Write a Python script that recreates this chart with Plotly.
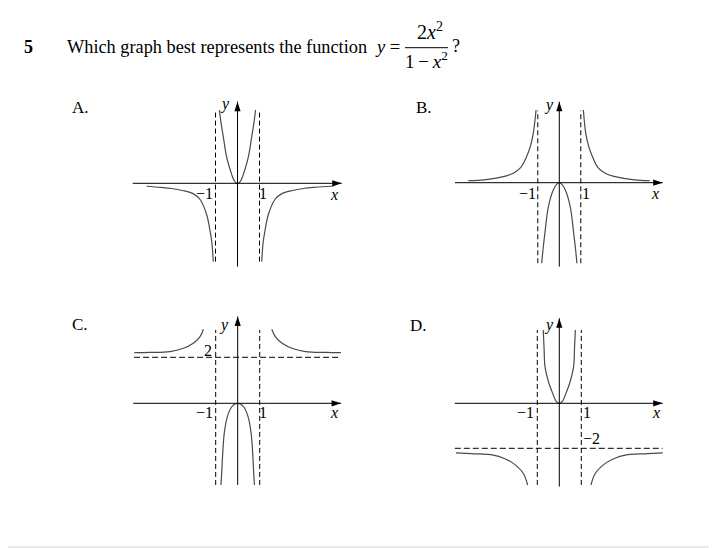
import plotly.graph_objects as go

# The page body has an 8px margin, so the figure is placed at (8, 8).
OFF = 8
W, H = 717 - OFF, 548 - OFF

# ---------------- data ----------------
panel_names = ["A.", "B.", "C.", "D."]

# Panel A
A_mid_x = [-0.82, -0.75, -0.65, -0.5, -0.3, -0.2, -0.1, 0.0, 0.1, 0.2, 0.3, 0.5, 0.65, 0.75, 0.82]
A_mid_y = [3.26, 2.7, 2.1, 1.2, 0.5, 0.22, 0.05, 0.0, 0.05, 0.22, 0.5, 1.2, 2.1, 2.7, 3.26]
A_left_x = [-4.13, -3.5, -3.0, -2.5, -2.0, -1.7, -1.4, -1.25, -1.17, -1.1]
A_left_y = [-0.13, -0.18, -0.23, -0.32, -0.47, -0.72, -1.4, -2.1, -2.6, -3.48]
A_right_x = [1.1, 1.17, 1.25, 1.4, 1.7, 2.0, 2.5, 3.0, 3.5, 4.36]
A_right_y = [-3.48, -2.6, -2.1, -1.4, -0.72, -0.47, -0.32, -0.23, -0.18, -0.12]

# Panel B
B_mid_x = [-0.82, -0.75, -0.67, -0.51, -0.28, -0.1, 0.0, 0.1, 0.28, 0.51, 0.67, 0.75, 0.82]
B_mid_y = [-3.58, -2.9, -2.25, -1.07, -0.32, -0.05, 0.0, -0.05, -0.32, -1.07, -2.25, -2.9, -3.58]
B_left_x = [-4.23, -3.5, -3.0, -2.5, -2.14, -1.8, -1.52, -1.35, -1.21, -1.08]
B_left_y = [0.09, 0.13, 0.19, 0.29, 0.42, 0.67, 1.16, 1.6, 2.2, 3.23]
B_right_x = [1.12, 1.23, 1.37, 1.54, 1.8, 2.14, 2.5, 3.0, 3.5, 4.2]
B_right_y = [3.23, 2.2, 1.6, 1.16, 0.67, 0.42, 0.29, 0.19, 0.13, 0.09]

# Panel C
C_mid_x = [-0.76, -0.72, -0.69, -0.61, -0.47, -0.27, -0.12, 0.0, 0.12, 0.27, 0.47, 0.61, 0.69, 0.72, 0.76]
C_mid_y = [-3.55, -2.9, -2.32, -1.3, -0.58, -0.15, -0.03, 0.0, -0.03, -0.15, -0.58, -1.3, -2.32, -2.9, -3.55]
C_left_x = [-4.7, -4.0, -3.08, -2.5, -2.02, -1.71, -1.56]
C_left_y = [2.2, 2.21, 2.25, 2.38, 2.61, 2.9, 3.22]
C_right_x = [1.55, 1.71, 2.02, 2.5, 3.08, 4.0, 4.69]
C_right_y = [3.22, 2.9, 2.61, 2.38, 2.25, 2.21, 2.2]

# Panel D
D_mid_x = [-0.73, -0.69, -0.65, -0.47, -0.3, -0.15, 0.0, 0.15, 0.3, 0.47, 0.65, 0.69, 0.73]
D_mid_y = [3.26, 2.4, 1.63, 0.89, 0.44, 0.1, 0.0, 0.1, 0.44, 0.89, 1.63, 2.4, 3.26]
D_left_x = [-4.7, -4.0, -3.0, -2.5, -2.09, -1.64, -1.44]
D_left_y = [-2.2, -2.24, -2.3, -2.45, -2.67, -3.11, -3.63]
D_right_x = [1.44, 1.64, 2.09, 2.5, 3.0, 4.0, 4.7]
D_right_y = [-3.63, -3.11, -2.67, -2.45, -2.3, -2.24, -2.2]

# vertical asymptotes x = -1, 1 and horizontal asymptote values
vert_asym = [-1, 1]
horiz_asym = [None, None, 2, -2]
tick_labels = ["−1", "1"]
horiz_labels = [None, None, "2", "−2"]

# ---------------- layout geometry (page pixels) ----------------
geom = [
    dict(ox=237.5, oy=183.3, ux=22.0, uy=22.5, box=(120, 355, 92, 278)),
    dict(ox=559.3, oy=182.7, ux=21.5, uy=22.5, box=(440, 680, 92, 278)),
    dict(ox=237.7, oy=403.3, ux=22.0, uy=23.0, box=(120, 355, 305, 495)),
    dict(ox=559.3, oy=403.3, ux=22.0, uy=22.5, box=(440, 680, 305, 495)),
]
axis_x_ext = [(-4.76, 4.74), (-4.85, 4.81), (-4.75, 4.7), (-4.75, 4.7)]
axis_y_ext = [(-3.7, 3.63), (-3.73, 3.6), (-3.55, 3.77), (-3.7, 3.78)]
vdash_ext = [(-3.48, 3.26), (-3.58, 3.2), (-3.55, 3.19), (-3.63, 3.26)]
hdash_ext = [None, None, (-4.71, 4.68), (-4.75, 4.7)]
lab_m1 = [(-1.48, -0.45), (-1.5, -0.5), (-1.53, -0.4), (-1.52, -0.41)]
lab_p1 = [(1.18, -0.45), (1.24, -0.5), (1.16, -0.4), (1.26, -0.41)]
lab_x = [(4.39, -0.48), (4.45, -0.5), (4.38, -0.4), (4.38, -0.41)]
lab_y = [(-0.57, 3.52), (-0.48, 3.45), (-0.61, 3.4), (-0.47, 3.48)]
lab_h = [None, None, (-1.33, 2.3), (1.47, -1.56)]
letter_pos = [(80, 107), (424, 107), (80, 324), (418, 325)]

series = [
    [(A_mid_x, A_mid_y), (A_left_x, A_left_y), (A_right_x, A_right_y)],
    [(B_mid_x, B_mid_y), (B_left_x, B_left_y), (B_right_x, B_right_y)],
    [(C_mid_x, C_mid_y), (C_left_x, C_left_y), (C_right_x, C_right_y)],
    [(D_mid_x, D_mid_y), (D_left_x, D_left_y), (D_right_x, D_right_y)],
]

SERIF = "Liberation Serif"
CURVE = "#4a4a4a"


def px_x(px):
    return (px - OFF) / W


def px_y(py):
    return 1 - (py - OFF) / H


fig = go.Figure()
annotations = []
shapes = []
layout_axes = {}

for i, g in enumerate(geom):
    n = i + 1
    xa = "x" if n == 1 else f"x{n}"
    ya = "y" if n == 1 else f"y{n}"
    x0, x1, y0, y1 = g["box"]
    layout_axes["xaxis" if n == 1 else f"xaxis{n}"] = dict(
        domain=[px_x(x0), px_x(x1)],
        range=[(x0 - g["ox"]) / g["ux"], (x1 - g["ox"]) / g["ux"]],
        visible=False, fixedrange=True, anchor=ya,
    )
    layout_axes["yaxis" if n == 1 else f"yaxis{n}"] = dict(
        domain=[px_y(y1), px_y(y0)],
        range=[(g["oy"] - y1) / g["uy"], (g["oy"] - y0) / g["uy"]],
        visible=False, fixedrange=True, anchor=xa,
    )

    # dashed asymptotes
    for v in vert_asym:
        fig.add_trace(go.Scatter(
            x=[v, v], y=list(vdash_ext[i]), mode="lines", xaxis=xa, yaxis=ya,
            line=dict(color="black", width=1, dash="5px,3px"), hoverinfo="skip",
            showlegend=False))
    if horiz_asym[i] is not None:
        fig.add_trace(go.Scatter(
            x=list(hdash_ext[i]), y=[horiz_asym[i]] * 2, mode="lines", xaxis=xa, yaxis=ya,
            line=dict(color="black", width=1, dash="6px,3px"), hoverinfo="skip",
            showlegend=False))

    # curves
    for sx, sy in series[i]:
        fig.add_trace(go.Scatter(
            x=sx, y=sy, mode="lines", xaxis=xa, yaxis=ya,
            line=dict(color=CURVE, width=1.2, shape="spline", smoothing=1.0),
            hoverinfo="skip", showlegend=False))

    # coordinate axes (lines) with arrowheads at their ends
    fig.add_trace(go.Scatter(
        x=list(axis_x_ext[i]), y=[0, 0], mode="lines", xaxis=xa, yaxis=ya,
        line=dict(color="black", width=1), hoverinfo="skip", showlegend=False))
    fig.add_trace(go.Scatter(
        x=[0, 0], y=list(axis_y_ext[i]), mode="lines", xaxis=xa, yaxis=ya,
        line=dict(color="black", width=1), hoverinfo="skip", showlegend=False))
    fig.add_trace(go.Scatter(
        x=[axis_x_ext[i][1], 0], y=[0, axis_y_ext[i][1]], mode="markers",
        xaxis=xa, yaxis=ya,
        marker=dict(symbol="arrow", size=10, angle=[90, 0], color="black",
                    line=dict(width=0)),
        hoverinfo="skip", showlegend=False))

    # labels
    def lab(pos, txt, size=16):
        annotations.append(dict(
            x=pos[0], y=pos[1], xref=xa, yref=ya, text=txt, showarrow=False,
            font=dict(family=SERIF, size=size, color="black"),
            xanchor="center", yanchor="middle"))
    lab(lab_m1[i], tick_labels[0])
    lab(lab_p1[i], tick_labels[1])
    lab(lab_x[i], "<i>x</i>")
    lab(lab_y[i], "<i>y</i>")
    if lab_h[i] is not None:
        lab(lab_h[i], horiz_labels[i])

    # panel letter
    annotations.append(dict(
        x=px_x(letter_pos[i][0]), y=px_y(letter_pos[i][1]), xref="paper", yref="paper",
        text=panel_names[i], showarrow=False,
        font=dict(family=SERIF, size=17, color="black"),
        xanchor="center", yanchor="middle"))


# question text
def ptext(px, py, txt, size=18, anchor="left"):
    annotations.append(dict(
        x=px_x(px), y=px_y(py), xref="paper", yref="paper", text=txt, showarrow=False,
        font=dict(family=SERIF, size=size, color="black"),
        xanchor=anchor, yanchor="middle"))


ptext(28, 47, "<b>5</b>", anchor="center")
ptext(65, 47, "Which graph best represents the function", size=18.3)
ptext(373, 47, "<i>y</i> =", size=18.5)
ptext(430, 31, "2<i>x</i><sup>2</sup>", size=20, anchor="center")
ptext(426, 60, "1\u2009−\u2009<i>x</i><sup>2</sup>", size=19, anchor="center")
ptext(450, 46, "?")
shapes.append(dict(type="line", xref="paper", yref="paper",
                   x0=px_x(405), x1=px_x(448), y0=px_y(47.7), y1=px_y(47.7),
                   line=dict(color="black", width=1)))

# page border lines (light grey) at the right and bottom edges
shapes.append(dict(type="line", xref="paper", yref="paper", x0=0, x1=1,
                   y0=px_y(547), y1=px_y(547), line=dict(color="#d4d4d4", width=1)))
shapes.append(dict(type="line", xref="paper", yref="paper", x0=px_x(716), x1=px_x(716),
                   y0=px_y(547), y1=1, line=dict(color="#d4d4d4", width=1)))

fig.update_layout(
    width=W, height=H, margin=dict(l=0, r=0, t=0, b=0),
    paper_bgcolor="white", plot_bgcolor="rgba(0,0,0,0)",
    showlegend=False, annotations=annotations, shapes=shapes,
    **layout_axes,
)

fig.write_html("out.html")
